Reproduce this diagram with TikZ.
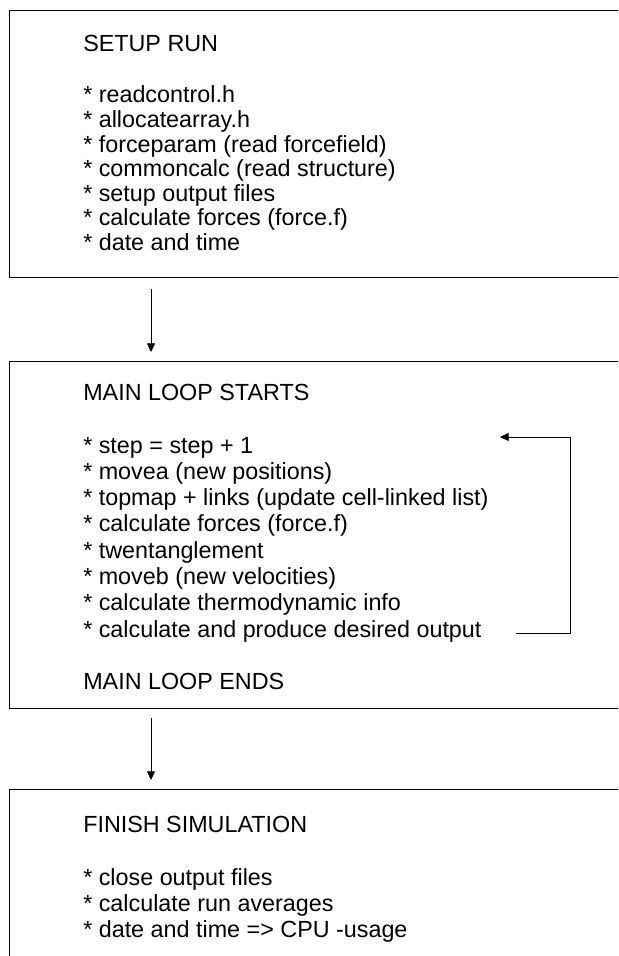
\documentclass[tikz,border=0pt]{standalone}
\usepackage{fontspec}
\setmainfont{Liberation Sans}
\usetikzlibrary{arrows.meta,calc}

\tikzset{
    panel/.style={draw,line width=0.8pt,rectangle,anchor=north west,inner sep=0pt,minimum width=480pt},
    heading/.style={anchor=base west,inner sep=0pt,font=\fontsize{17.5pt}{21pt}\selectfont},
    item/.style={heading},
    flow/.style={draw,line width=0.6pt,-{Triangle[length=6.5pt,width=6pt]}}
}

\begin{document}
\begin{tikzpicture}[x=0.75pt,y=-0.75pt]
    \useasboundingbox (0,0) rectangle (618,956);
    \clip (0,0) rectangle (618,956);
    % the three blocks, open on the right
    \node[panel,minimum height=200.25pt] (setup)    at (9,10)  {};
    \node[panel,minimum height=260.25pt] (mainloop) at (9,361) {};
    \node[panel,minimum height=150pt]    (finish)   at (9,789) {};

    % setup run
    \node[heading] (setuphead) at (83,52) {SETUP RUN};
    \foreach \txt [count=\i] in {readcontrol.h, allocatearray.h, forceparam (read forcefield), commoncalc (read structure), setup output files, calculate forces (force.f), date and time}{%
        \node[item] (setup\i) at (83,{78.5+24.5*\i}) {* \txt};
    }

    % main loop
    \node[heading] (mainhead) at (83,400) {MAIN LOOP STARTS};
    \foreach \txt [count=\i] in {step = step + 1, movea (new positions), topmap + links (update cell-linked list), calculate forces (force.f), twentanglement, moveb (new velocities), calculate thermodynamic info, calculate and produce desired output}{%
        \node[item] (main\i) at (83,{426.7+26.3*\i}) {* \txt};
    }
    \node[heading] (mainend) at (83,689) {MAIN LOOP ENDS};

    % finish
    \node[heading] (finishhead) at (83,832) {FINISH SIMULATION};
    \foreach \txt [count=\i] in {close output files, calculate run averages, date and time => CPU -usage}{%
        \node[item] (finish\i) at (83,{859+26*\i}) {* \txt};
    }

    % connectors
    \draw[flow] ($(setup.south west)+(142,11)$) -- ($(mainloop.north west)+(142,-9)$);
    \draw[flow] ($(mainloop.south west)+(142,9)$) -- ($(finish.north west)+(142,-9)$);
    \coordinate (loopout) at (516,633);
    \coordinate (loopin)  at (500,437);
    \draw[flow] (loopout) -- ++(54,0) |- (loopin);
\end{tikzpicture}
\end{document}
